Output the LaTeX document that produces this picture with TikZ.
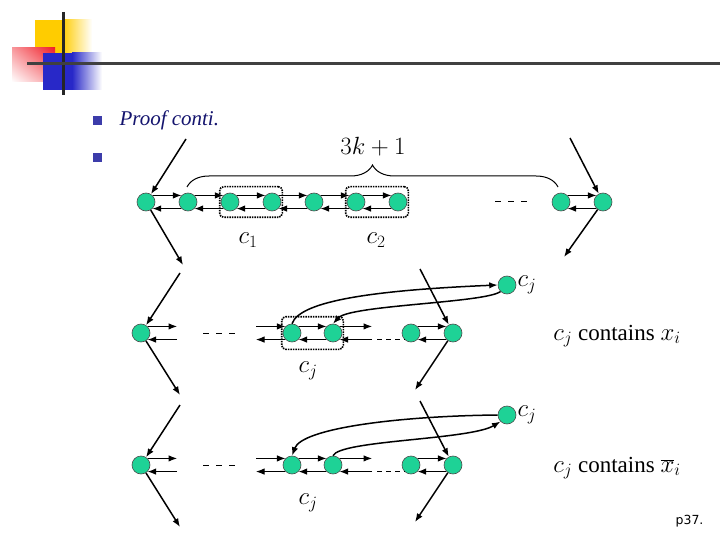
\documentclass[tikz,border=0pt]{standalone}
\usepackage{fontspec}
\setmainfont{Liberation Serif}
\newfontfamily\pagefont{DejaVu Sans}
\usetikzlibrary{arrows.meta,decorations.pathreplacing,fit,shadings}

\definecolor{vgreen}{RGB}{30,210,150}
\definecolor{logoyellow}{RGB}{255,204,0}
\definecolor{logoblue}{RGB}{40,40,200}
\definecolor{logored}{RGB}{240,30,40}
\definecolor{bulletblue}{RGB}{60,60,170}
\definecolor{navytext}{RGB}{20,20,110}

\tikzset{
  vtx/.style={circle,draw=black!70,line width=0.6pt,fill=vgreen,minimum size=18pt,inner sep=0pt},
  link/.style={->,line width=1pt},
  long/.style={->,line width=1.5pt},
  curve/.style={->,line width=1.5pt},
  gap/.style={line width=1pt,dash pattern=on 6pt off 7pt},
  cbox/.style={draw,line width=1.6pt,dash pattern=on 1.5pt off 1pt,rounded corners=4pt,inner xsep=1pt,inner ysep=6pt},
  lbl/.style={font=\fontsize{24}{28}\selectfont},
  note/.style={font=\fontsize{23}{26}\selectfont}
}
\newcommand{\pair}[2]{\draw[link] (#1.45) -- (#2.135); \draw[link] (#2.-135) -- (#1.-45);}

\begin{document}
\begin{tikzpicture}[x=1pt,y=-1pt,>={Latex[length=8.5pt,width=6.5pt]}]
\useasboundingbox (0,0) rectangle (720,540);

% slide logo
\fill[logoyellow] (35,20) rectangle (62,53);
\shade[left color=logoyellow,right color=white] (62,20) rectangle (92,53);
\shade[upper right=logored,lower left=white,upper left=logored!45!white,lower right=logored!45!white] (12,48) rectangle (55,82);
\fill[logoblue] (43,53) rectangle (72,90);
\shade[left color=logoblue,right color=white] (72,53) rectangle (102,90);
\draw[line width=3pt,black!85] (63,12) -- (63,95);
\draw[line width=3pt,black!75] (27,64) -- (720,64);

% bullets
\fill[bulletblue] (93,116) rectangle (102,125);
\fill[bulletblue] (93,153) rectangle (102,162);
\node[anchor=west,text=navytext,font=\fontsize{21}{24}\selectfont\itshape] (title) at (116,120) {Proof conti.};

% top row
\foreach \i/\x in {1/146,2/188,3/230,4/272,5/314,6/356,7/398,8/561,9/603}
  \node[vtx] (t\i) at (\x,202) {};
\foreach \i/\j in {1/2,2/3,3/4,4/5,5/6,6/7,8/9}
  \pair{t\i}{t\j}
\draw[gap] (495,202) -- (529,202);
\node[cbox,fit=(t3)(t4)] (c1box) {};
\node[cbox,fit=(t6)(t7)] (c2box) {};
\node[lbl] (c1) at (248,240) {$c_1$};
\node[lbl] (c2) at (376,240) {$c_2$};

\coordinate (bl) at (187,187);
\coordinate (br) at (558,187);
\draw[decorate,decoration={brace,amplitude=22pt},line width=1pt] (bl) -- (br);
\node[lbl] (k) at (373,147) {$3k+1$};

\coordinate (t1in) at (186,139);
\coordinate (t1out) at (183,265);
\coordinate (t9in) at (570,138);
\coordinate (t9out) at (564,257);
\draw[long] (t1in) -- (t1);
\draw[long] (t1) -- (t1out);
\draw[long] (t9in) -- (t9);
\draw[long] (t9) -- (t9out);

% lower rows
\coordinate (s1) at (177,0);
\coordinate (s2) at (256,0);
\coordinate (s3) at (372,0);
\coordinate (s4) at (377,0);
\foreach \r/\y/\cy/\lit in {m/333/285/{$x_i$},b/465/415/{$\overline{x}_i$}}{
  \foreach \i/\x in {1/141,2/292,3/333,4/411,5/453}
    \node[vtx] (\r\i) at (\x,\y) {};
  \node[vtx] (\r-cj) at (507,\cy) {};
  \node[lbl,anchor=west,inner sep=1pt] (\r-cjl) at (\r-cj.east) {$c_j$};
  \node[lbl] (\r-cjb) at (308,\y+38) {$c_j$};
  \node[note] (\r-note) at (617,\y+3) {$c_j$ contains \lit};
  \draw[link] (\r1.45) -- (\r1.45 -| s1);
  \draw[link] (\r1.-45 -| s1) -- (\r1.-45);
  \draw[gap] (203,\y) -- (236,\y);
  \draw[link] (\r2.135 -| s2) -- (\r2.135);
  \draw[link] (\r2.-135) -- (\r2.-135 -| s2);
  \pair{\r2}{\r3}
  \draw[link] (\r3.45) -- (\r3.45 -| s3);
  \draw[link] (\r3.-45 -| s3) -- (\r3.-45);
  \draw[line width=1pt,dash pattern=on 5pt off 4pt] (\r3.-45 -| s4) -- (\r4.-135);
  \pair{\r4}{\r5}
  \coordinate (\r-in1) at (180,\y-60);
  \coordinate (\r-out1) at (180,\y+62);
  \coordinate (\r-in5) at (420,\y-64);
  \coordinate (\r-out5) at (415,\y+57);
  \draw[long] (\r-in1) -- (\r1);
  \draw[long] (\r1) -- (\r-out1);
  \draw[long] (\r-in5) -- (\r5);
  \draw[long] (\r5) -- (\r-out5);
}
\node[cbox,inner ysep=7pt,fit=(m2)(m3)] (cjbox) {};

% clause edges
\draw[curve] (m2.north) .. controls (300,300) and (380,290) .. (m-cj.west);
\draw[curve] (m-cj.225) .. controls (485,303) and (350,305) .. (m3.north);
\draw[curve] (b-cj.west) .. controls (400,416) and (302,428) .. (b2.north);
\draw[curve] (b3.north) .. controls (340,440) and (470,440) .. (b-cj.225);

\node[anchor=east,font=\pagefont\fontsize{12.5}{15}\selectfont] (page) at (707,521) {p37.};
\end{tikzpicture}
\end{document}
